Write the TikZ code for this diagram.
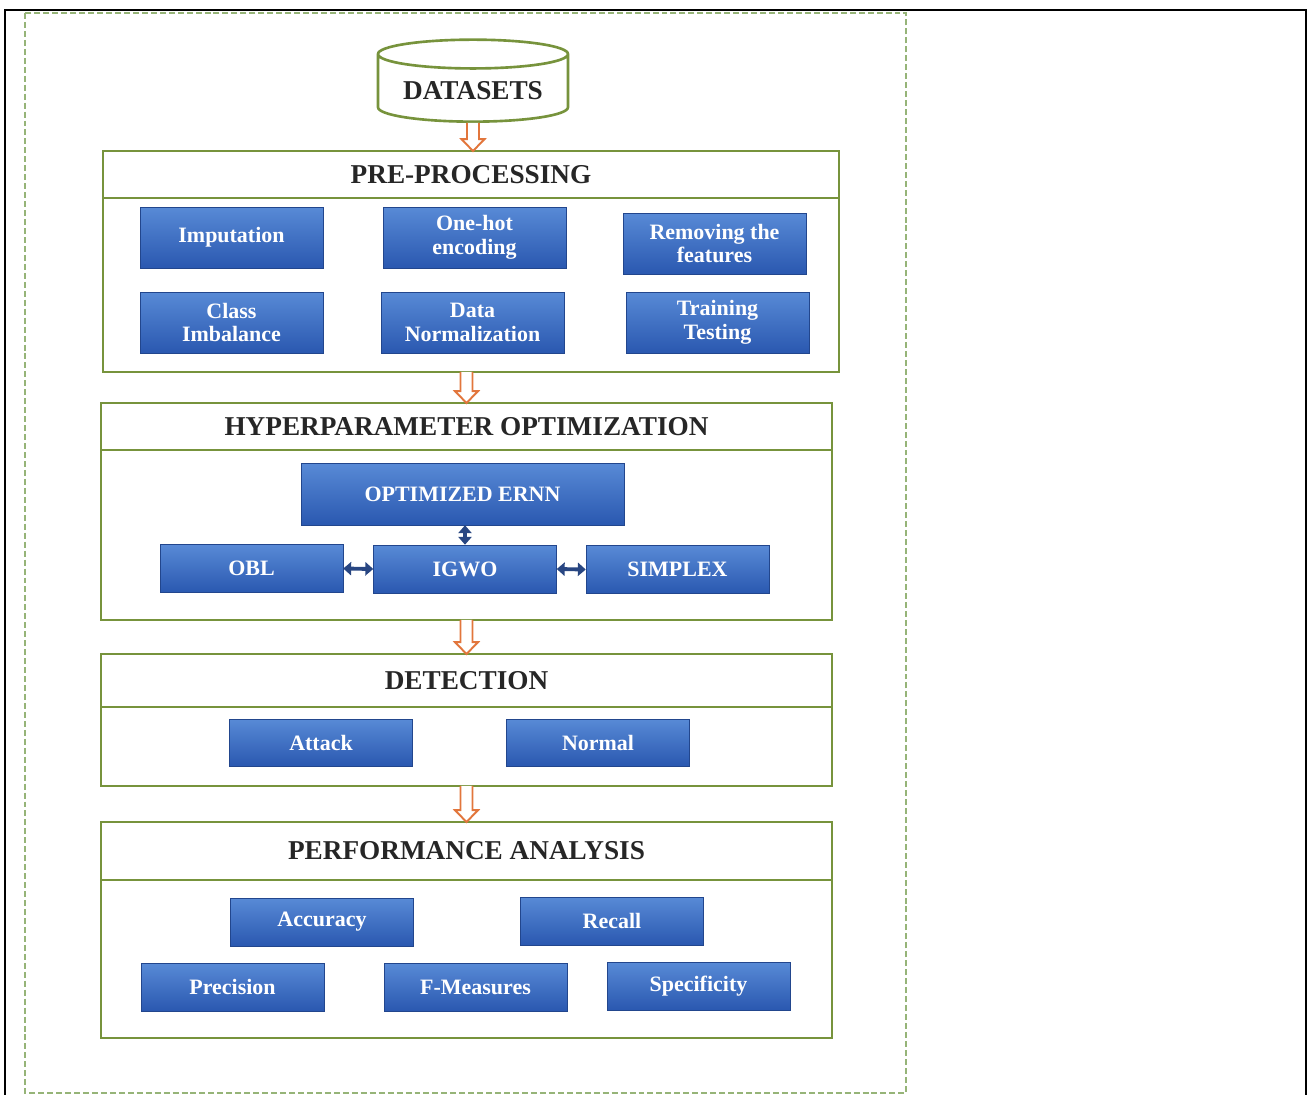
\documentclass[tikz,border=0pt]{standalone}
\usepackage{fontspec}
\setmainfont{Liberation Serif}
\usetikzlibrary{positioning,shapes.geometric,arrows.meta,calc}

\definecolor{grp}{RGB}{119,147,60}
\definecolor{dashc}{RGB}{150,180,120}
\definecolor{blutop}{RGB}{88,138,214}
\definecolor{blubot}{RGB}{42,88,176}
\definecolor{flowc}{RGB}{226,118,60}
\definecolor{linkc}{RGB}{40,70,130}

\tikzset{
  blk/.style={top color=blutop, bottom color=blubot, draw=blubot!80!black,
    line width=0.3pt, text=white, align=center, minimum width=3.66cm,
    inner sep=1pt, font=\fontsize{12.5}{13.5}\selectfont\bfseries},
  grphead/.style={draw=grp, line width=1.6pt, outer sep=0pt,
    text=black!85, font=\fontsize{15.5}{17}\selectfont\bfseries},
  grpbody/.style={draw=grp, line width=1.6pt, outer sep=0pt},
  % hollow block arrow between two nodes
  flow/.style={draw=flowc, line width=1.1pt, fill=white, line join=miter,
    to path={let \p1=(\tikztostart), \p2=(\tikztotarget) in
      (\x1-3.4pt,\y1) -- (\x1-3.4pt,\y2+6.8pt) -- (\x1-6.6pt,\y2+6.8pt)
      -- (\x1,\y2) -- (\x1+6.6pt,\y2+6.8pt) -- (\x1+3.4pt,\y2+6.8pt)
      -- (\x1+3.4pt,\y1)}},
  link/.style={linkc, line width=2.2pt,
    {Triangle[length=4.5pt,width=7.5pt]}-{Triangle[length=4.5pt,width=7.5pt]}}
}

\begin{document}
\begin{tikzpicture}[x=0.02cm,y=-0.02cm]
  \useasboundingbox (0,0) rectangle (1308,1095);
  \draw[line width=1.4pt] (5,1095) -- (5,10) -- (1306,10) -- (1306,1095);
  \draw[dashc, line width=1.1pt, dash pattern=on 3.4pt off 1.7pt] (25,13) rectangle (906,1093);

  % datasets
  \node[cylinder, shape border rotate=90, draw=grp, line width=1.5pt, fill=white,
    aspect=0.19, minimum width=3.8cm, minimum height=1.64cm,
    text=black!85, font=\fontsize{15.5}{17}\selectfont\bfseries] (ds) at (473,91) {DATASETS};

  % groups
  \node[grphead, minimum width=14.72cm, minimum height=0.94cm] (prehead) at (471,174.5) {PRE-PROCESSING};
  \node[grpbody, minimum width=14.72cm, minimum height=3.48cm, below=0pt of prehead] (prebody) {};
  \node[grphead, minimum width=14.62cm, minimum height=0.94cm] (hyphead) at (466.5,426.5) {HYPERPARAMETER OPTIMIZATION};
  \node[grpbody, minimum width=14.62cm, minimum height=3.4cm, below=0pt of hyphead] (hypbody) {};
  \node[grphead, minimum width=14.62cm, minimum height=1.06cm] (dethead) at (466.5,680.5) {DETECTION};
  \node[grpbody, minimum width=14.62cm, minimum height=1.58cm, below=0pt of dethead] (detbody) {};
  \node[grphead, minimum width=14.62cm, minimum height=1.16cm] (perfhead) at (466.5,851) {PERFORMANCE ANALYSIS};
  \node[grpbody, minimum width=14.62cm, minimum height=3.16cm, below=0pt of perfhead] (perfbody) {};

  % blue boxes
  \foreach \n/\x/\y/\h/\t in {
    imp/231.5/237.5/1.22/Imputation,
    onehot/474.5/237.5/1.22/One-hot\\encoding,
    remove/714.5/243.5/1.22/Removing the\\features,
    cls/231.5/322.5/1.22/Class\\Imbalance,
    dnorm/472.5/322.5/1.22/Data\\Normalization,
    train/717.5/322.5/1.22/Training\\Testing,
    obl/251.5/568.5/0.96/OBL,
    igwo/465/569/0.96/IGWO,
    simplex/677.5/569.5/0.96/SIMPLEX,
    attack/321/742.5/0.94/Attack,
    normal/598/742.5/0.94/Normal,
    acc/322/922/0.96/Accuracy,
    recall/612/921/0.96/Recall,
    prec/232.5/987/0.96/Precision,
    fmeas/475.5/987/0.96/F-Measures,
    spec/698.5/986/0.96/Specificity}
  {
    \node[blk, minimum height=\h cm] (\n) at (\x,\y) {\t};
  }
  \node[blk, minimum width=6.46cm, minimum height=1.24cm] (ernn) at (462.5,494) {OPTIMIZED ERNN};

  % flow
  \draw[flow] (ds.south) to (ds.south |- prehead.north);
  \draw[flow] (prebody.south -| hyphead.north) to (hyphead.north);
  \draw[flow] (hypbody.south) to (dethead.north);
  \draw[flow] (detbody.south) to (perfhead.north);

  \draw[link] (igwo.north) -- (igwo.north |- ernn.south);
  \draw[link] (obl.east) -- (igwo.west);
  \draw[link] (igwo.east) -- (simplex.west);
\end{tikzpicture}
\end{document}
